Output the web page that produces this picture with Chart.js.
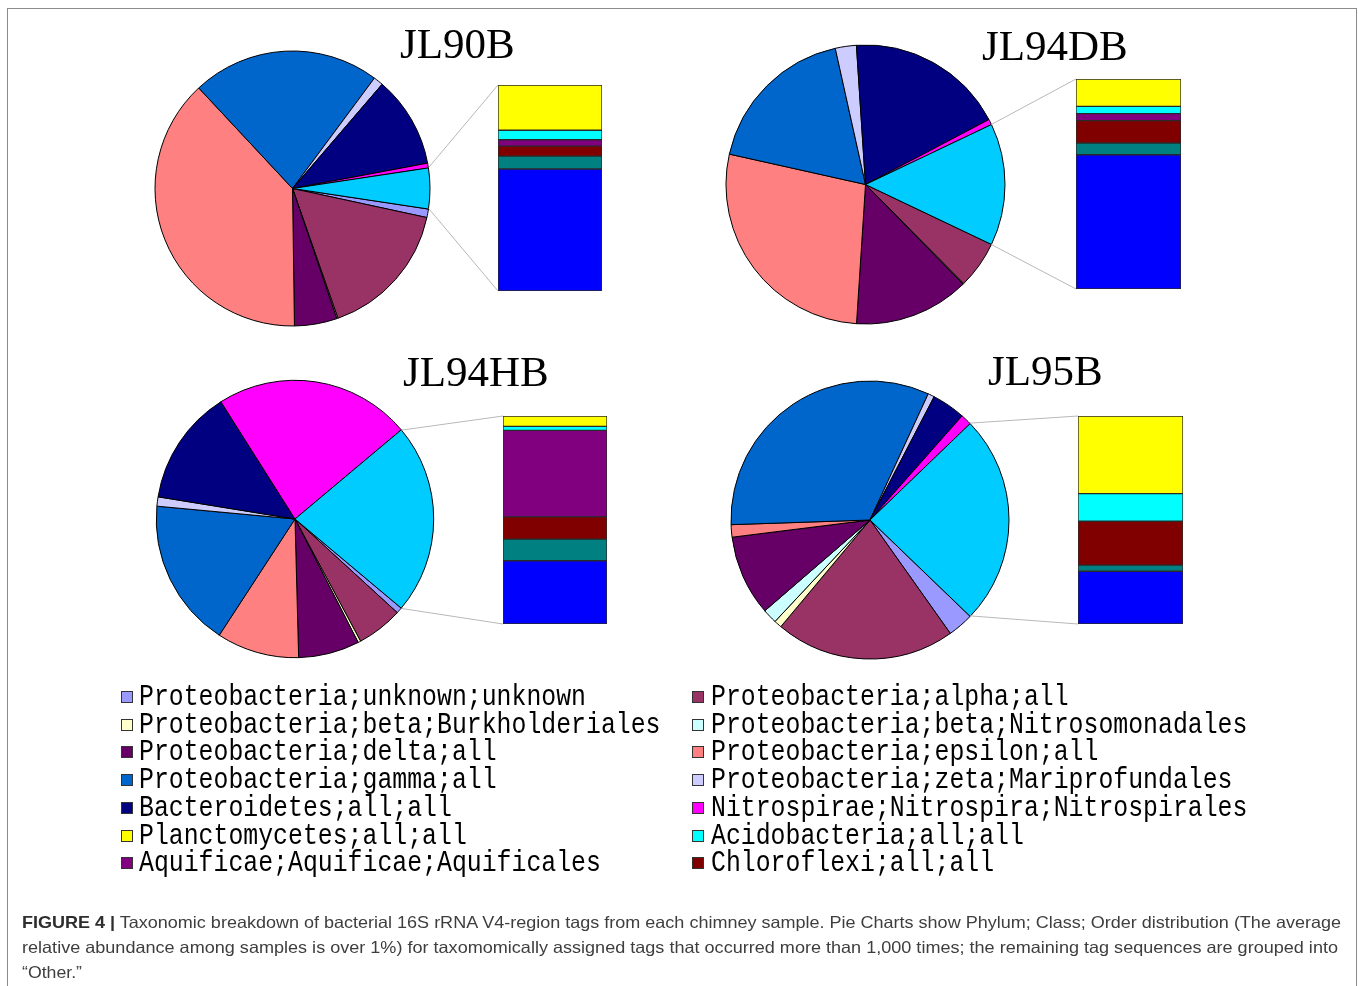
<!DOCTYPE html>
<html>
<head>
<meta charset="utf-8">
<title>Taxonomic breakdown of 16S rRNA V4-region tags</title>
<script src="https://cdn.jsdelivr.net/npm/chart.js@4.4.1/dist/chart.umd.min.js"></script>
<style>
  html, body { margin: 0; padding: 0; background: #fff; }
  #fig { position: relative; width: 1358px; height: 986px; overflow: hidden; background: #fff; }
  #frame { position: absolute; left: 7px; top: 7.5px; width: 1350px; height: 1000px;
           border: 1.5px solid #8c8c8c; border-bottom: none; box-sizing: border-box; }
  canvas.chart { position: absolute; }
  #links { position: absolute; left: 0; top: 0; pointer-events: none; }
  .title { position: absolute; font-family: "Liberation Serif", "Times New Roman", serif;
           font-size: 43px; line-height: 43px; color: #000; white-space: nowrap; }
  .lg-text { position: absolute; white-space: nowrap; font-family: "Liberation Mono", monospace;
             font-size: 30px; line-height: 30px; color: #000; transform-origin: 0 0; }
  .lg-box { position: absolute; width: 10px; height: 10px; border: 1px solid #333; }
  .cap { position: absolute; left: 22px; font-family: "Liberation Sans", Arial, sans-serif;
         font-size: 16.5px; line-height: 16.5px; color: #3e3e3e; white-space: nowrap; transform-origin: 0 0; }
  .cap b { color: #2e2e2e; }
</style>
</head>
<body>
<div id="fig">
  <div id="frame"></div>
  <canvas id="links" width="1358" height="986"></canvas>
</div>
<script>
// ---- categories -----------------------------------------------------------
const samples = ['JL90B', 'JL94DB', 'JL94HB', 'JL95B'];

// groups drawn as pie slices (last slice = the groups broken out into the bar)
const pieCategories = [
  'Proteobacteria;unknown;unknown',
  'Proteobacteria;alpha;all',
  'Proteobacteria;beta;Burkholderiales',
  'Proteobacteria;beta;Nitrosomonadales',
  'Proteobacteria;delta;all',
  'Proteobacteria;epsilon;all',
  'Proteobacteria;gamma;all',
  'Proteobacteria;zeta;Mariprofundales',
  'Bacteroidetes;all;all',
  'Nitrospirae;Nitrospira;Nitrospirales'
];
const pieColors = ['#9999FF', '#993366', '#FFFFCC', '#CCFFFF', '#660066', '#FF8080',
                   '#0066CC', '#CCCCFF', '#000080', '#FF00FF'];
const groupedSliceColor = '#00CCFF';

// groups stacked in the bar, listed top to bottom
const barCategories = [
  'Planctomycetes;all;all',
  'Acidobacteria;all;all',
  'Aquificae;Aquificae;Aquificales',
  'Chloroflexi;all;all',
  'Unclassified',
  'Other'
];
const barColors = ['#FFFF00', '#00FFFF', '#800080', '#800000', '#008080', '#0000FF'];

// ---- relative abundance (% of tags) ---------------------------------------
const JL90B_pie  = [1.00, 16.25, 0.14, 0.00, 5.00, 38.28, 22.11, 1.14, 10.75, 0.56];
const JL90B_bar  = [1.05, 0.22, 0.15, 0.23, 0.30, 2.83];

const JL94DB_pie = [0.00, 5.50, 0.10, 0.00, 13.36, 27.47, 18.03, 2.44, 18.33, 0.64];
const JL94DB_bar = [1.84, 0.49, 0.47, 1.51, 0.79, 9.04];

const JL94HB_pie = [0.69, 5.36, 0.31, 0.00, 7.11, 9.61, 17.28, 1.08, 13.47, 22.86];
const JL94HB_bar = [1.10, 0.43, 9.24, 2.38, 2.31, 6.76];

const JL95B_pie  = [3.00, 20.89, 0.89, 1.69, 9.36, 1.44, 32.42, 0.75, 3.89, 1.28];
const JL95B_bar  = [9.10, 3.24, 0.00, 5.15, 0.71, 6.19];

const sampleData = {
  JL90B:  { pie: JL90B_pie,  bar: JL90B_bar },
  JL94DB: { pie: JL94DB_pie, bar: JL94DB_bar },
  JL94HB: { pie: JL94HB_pie, bar: JL94HB_bar },
  JL95B:  { pie: JL95B_pie,  bar: JL95B_bar }
};

// ---- page layout (pixels) -------------------------------------------------
const layout = {
  JL90B:  { cx: 292.8, cy: 188.0, r: 137.5, bar: [498, 85, 104, 206],   title: [400, 58] },
  JL94DB: { cx: 865.3, cy: 184.5, r: 139.5, bar: [1076, 79, 105, 210],  title: [982, 60] },
  JL94HB: { cx: 295.3, cy: 519.3, r: 138.7, bar: [503, 416, 104, 208],  title: [403, 386] },
  JL95B:  { cx: 870.0, cy: 519.5, r: 139.0, bar: [1078, 416, 105, 208], title: [988, 385] }
};

const fig = document.getElementById('fig');
const sum = a => a.reduce((s, v) => s + v, 0);

function addCanvas(left, top, w, h) {
  const c = document.createElement('canvas');
  c.className = 'chart';
  c.width = w; c.height = h;
  c.style.left = left + 'px'; c.style.top = top + 'px';
  fig.insertBefore(c, document.getElementById('links'));
  return c;
}

const panels = [];

samples.forEach(name => {
  const d = sampleData[name];
  const L = layout[name];

  // pie: the bar groups appear as one combined slice centred at 3 o'clock
  const grouped = sum(d.bar);
  const total = sum(d.pie) + grouped;
  const groupedDeg = grouped / total * 360;
  const size = Math.ceil(2 * L.r + 8);
  const pieCanvas = addCanvas(L.cx - size / 2, L.cy - size / 2, size, size);
  const pie = new Chart(pieCanvas, {
    type: 'pie',
    data: {
      labels: [...pieCategories, 'Grouped'],
      datasets: [{
        data: [...d.pie, grouped],
        backgroundColor: [...pieColors, groupedSliceColor],
        borderColor: '#000',
        borderWidth: 1,
        hoverOffset: 0
      }]
    },
    options: {
      responsive: false,
      animation: false,
      events: [],
      radius: L.r,
      rotation: 90 + groupedDeg / 2,
      layout: { padding: 0 },
      plugins: { legend: { display: false }, tooltip: { enabled: false }, title: { display: false } }
    }
  });

  // bar: stacked breakdown of the combined slice (first category on top)
  const [bx, by, bw, bh] = L.bar;
  const barCanvas = addCanvas(bx - 1, by - 1, bw + 2, bh + 2);
  const datasets = [];
  for (let i = barCategories.length - 1; i >= 0; i--) {
    datasets.push({
      label: barCategories[i],
      data: [d.bar[i]],
      backgroundColor: barColors[i],
      borderColor: '#2a2a2a',
      borderWidth: 1,
      borderSkipped: false,
      barPercentage: 1,
      categoryPercentage: 1
    });
  }
  const bar = new Chart(barCanvas, {
    type: 'bar',
    data: { labels: [name], datasets },
    options: {
      responsive: false,
      animation: false,
      events: [],
      layout: { padding: 1 },
      scales: {
        x: { stacked: true, display: false },
        y: { stacked: true, display: false, min: 0, max: grouped }
      },
      plugins: { legend: { display: false }, tooltip: { enabled: false } }
    }
  });

  panels.push({ pie, pieCanvas, bar, barCanvas });

  // sample name
  const t = document.createElement('div');
  t.className = 'title';
  t.textContent = name;
  t.style.left = L.title[0] + 'px';
  t.style.top = (L.title[1] - 36) + 'px';
  fig.appendChild(t);
});

// ---- connector lines from the combined slice to the bar -------------------
function drawLinks() {
  const ctx = document.getElementById('links').getContext('2d');
  ctx.clearRect(0, 0, 1358, 986);
  ctx.strokeStyle = '#b8b8b8';
  ctx.lineWidth = 1;
  panels.forEach(p => {
    const pOff = [parseFloat(p.pieCanvas.style.left), parseFloat(p.pieCanvas.style.top)];
    const bOff = [parseFloat(p.barCanvas.style.left), parseFloat(p.barCanvas.style.top)];
    const arcs = p.pie.getDatasetMeta(0).data;
    const arc = arcs[arcs.length - 1];
    const { x, y, startAngle, endAngle, outerRadius } = arc.getProps(['x', 'y', 'startAngle', 'endAngle', 'outerRadius'], true);
    let top = Infinity, bottom = -Infinity, left = Infinity;
    p.bar.data.datasets.forEach((ds, i) => {
      const el = p.bar.getDatasetMeta(i).data[0];
      const pr = el.getProps(['x', 'y', 'base', 'width'], true);
      top = Math.min(top, pr.y, pr.base);
      bottom = Math.max(bottom, pr.y, pr.base);
      left = Math.min(left, pr.x - pr.width / 2);
    });
    const a1 = [pOff[0] + x + Math.cos(startAngle) * outerRadius, pOff[1] + y + Math.sin(startAngle) * outerRadius];
    const a2 = [pOff[0] + x + Math.cos(endAngle) * outerRadius, pOff[1] + y + Math.sin(endAngle) * outerRadius];
    ctx.beginPath();
    ctx.moveTo(a1[0], a1[1]); ctx.lineTo(bOff[0] + left, bOff[1] + top);
    ctx.moveTo(a2[0], a2[1]); ctx.lineTo(bOff[0] + left, bOff[1] + bottom);
    ctx.stroke();
  });
}
drawLinks();

// ---- legend (two columns, row by row) -------------------------------------
const legendNames = [...pieCategories, ...barCategories.slice(0, 4)];
const legendColors = [...pieColors, ...barColors.slice(0, 4)];
const legendCols = [{ box: 121, text: 139.3 }, { box: 692, text: 710.5 }];
const legendBaseline0 = 705, legendPitch = 27.7, legendAdvance = 14.9;
legendNames.forEach((label, i) => {
  const col = legendCols[i % 2];
  const base = legendBaseline0 + Math.floor(i / 2) * legendPitch;
  const box = document.createElement('div');
  box.className = 'lg-box';
  box.style.background = legendColors[i];
  box.style.left = col.box + 'px';
  box.style.top = (base - 14) + 'px';
  fig.appendChild(box);
  const tx = document.createElement('div');
  tx.className = 'lg-text';
  tx.textContent = label;
  tx.style.left = col.text + 'px';
  tx.style.top = (base - 23) + 'px';
  fig.appendChild(tx);
  const natural = tx.getBoundingClientRect().width / label.length;
  tx.style.transform = 'scaleX(' + (legendAdvance / natural) + ')';
});

// ---- caption --------------------------------------------------------------
const captionLines = [
  { html: '<b>FIGURE 4 |</b> Taxonomic breakdown of bacterial 16S rRNA V4-region tags from each chimney sample. Pie Charts show Phylum; Class; Order distribution (The average', base: 928, width: 1319 },
  { html: 'relative abundance among samples is over 1%) for taxomomically assigned tags that occurred more than 1,000 times; the remaining tag sequences are grouped into', base: 953, width: 1316 },
  { html: '\u201cOther.\u201d', base: 978, width: 60 }
];
captionLines.forEach(line => {
  const el = document.createElement('div');
  el.className = 'cap';
  el.innerHTML = line.html;
  el.style.top = (line.base - 14) + 'px';
  fig.appendChild(el);
  const w = el.getBoundingClientRect().width;
  el.style.transform = 'scaleX(' + (line.width / w) + ')';
});
</script>
</body>
</html>
